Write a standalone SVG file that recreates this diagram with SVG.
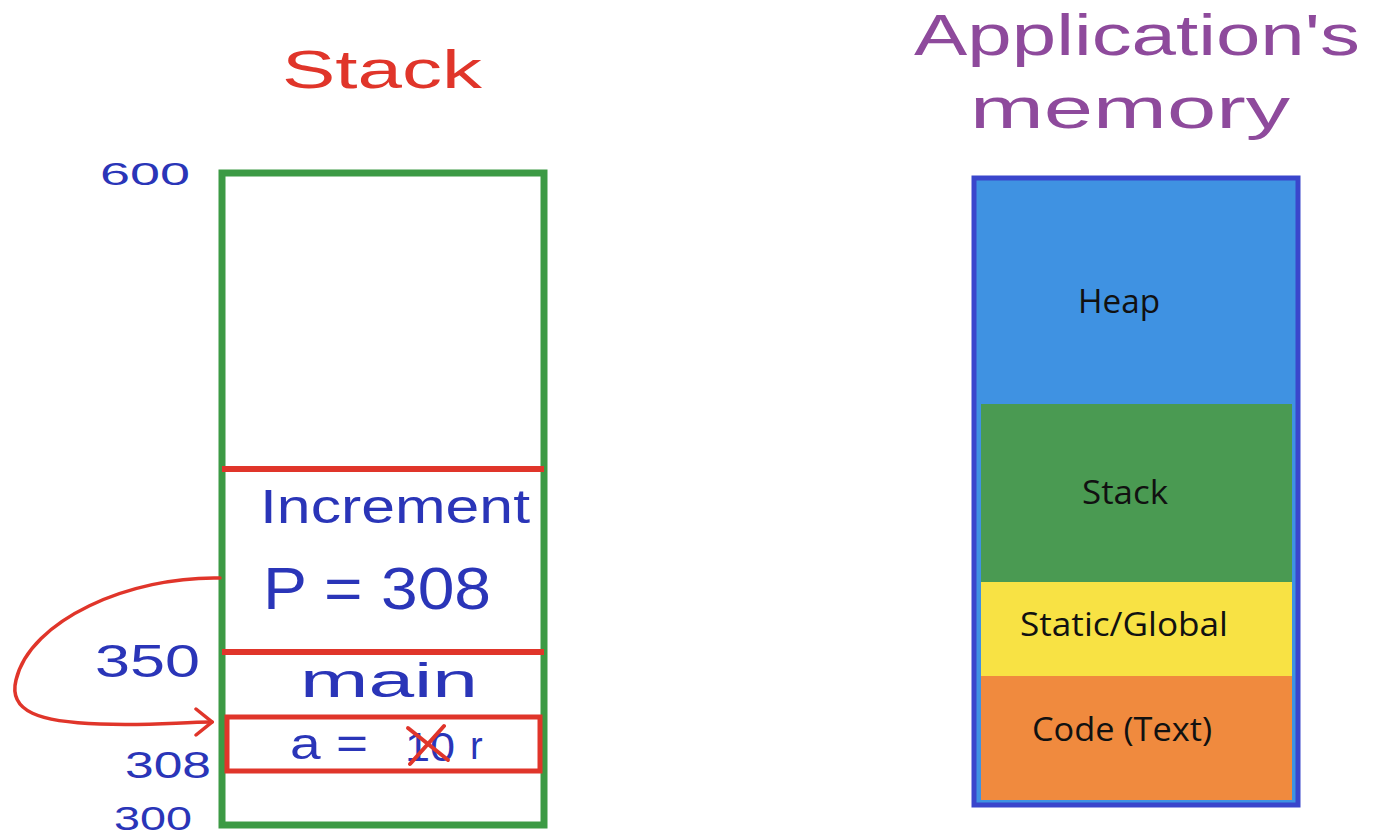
<svg xmlns="http://www.w3.org/2000/svg" width="1392" height="835" viewBox="0 0 1392 835">
<style>
.hand{font-family:"Liberation Sans",Arial,sans-serif;}
.blue{fill:#2a35b8;}
.red{fill:#e0352a;}
.purple{fill:#8e4a9c;}
.lbl{font-family:"Open Sans","Noto Sans",sans-serif;font-size:32px;fill:#111;text-anchor:middle;}
.redline{stroke:#e0352a;stroke-width:6;fill:none;}
</style>
<defs>
<marker id="arr" viewBox="0 0 20 30" refX="18" refY="15" markerWidth="20" markerHeight="30" markerUnits="userSpaceOnUse" orient="auto">
<path d="M2 2 L18 15 L2 28" fill="none" stroke="#e0352a" stroke-width="3.5" stroke-linecap="round"/>
</marker>
</defs>
<rect width="1392" height="835" fill="#ffffff"/>

<g id="stack-title"><text class="hand red" x="282" y="88" font-size="54" textLength="200" lengthAdjust="spacingAndGlyphs">Stack</text></g>

<g id="stack">
<rect x="222" y="173" width="322" height="652" fill="none" stroke="#3c9a44" stroke-width="7"/>
<line x1="222" y1="469" x2="544" y2="469" class="redline"/>
<line x1="222" y1="652" x2="544" y2="652" class="redline"/>
</g>

<g id="increment-frame">
<text class="hand blue" x="260" y="523" font-size="48" textLength="270" lengthAdjust="spacingAndGlyphs">Increment</text>
<text class="hand blue" x="263" y="609" font-size="60" textLength="228" lengthAdjust="spacingAndGlyphs">P = 308</text>
</g>

<g id="main-frame">
<text class="hand blue" x="300" y="697" font-size="48" textLength="178" lengthAdjust="spacingAndGlyphs">main</text>
</g>

<g id="var-a">
<rect x="227" y="717" width="313" height="54" fill="none" stroke="#e0352a" stroke-width="5"/>
<text class="hand blue" x="290" y="759" font-size="44" textLength="78" lengthAdjust="spacingAndGlyphs">a =</text>
<text class="hand blue" x="405" y="761" font-size="40" textLength="50" lengthAdjust="spacingAndGlyphs">10</text>
<line x1="408" y1="728" x2="448" y2="760" stroke="#e0352a" stroke-width="4" stroke-linecap="round"/>
<line x1="444" y1="726" x2="410" y2="764" stroke="#e0352a" stroke-width="4" stroke-linecap="round"/>
<text class="hand blue" x="470" y="759" font-size="38">r</text>
</g>

<g id="addresses">
<text class="hand blue" x="100" y="185" font-size="32" textLength="90" lengthAdjust="spacingAndGlyphs">600</text>
<text class="hand blue" x="95" y="677" font-size="46" textLength="105" lengthAdjust="spacingAndGlyphs">350</text>
<text class="hand blue" x="125" y="778" font-size="36" textLength="86" lengthAdjust="spacingAndGlyphs">308</text>
<text class="hand blue" x="114" y="830" font-size="34" textLength="78" lengthAdjust="spacingAndGlyphs">300</text>
</g>

<g id="connectors">
<path d="M220 578 C130 576 30 620 16 680 C8 712 40 722 100 724 C150 726 180 722 212 722" fill="none" stroke="#e0352a" stroke-width="3.5" stroke-linecap="round" marker-end="url(#arr)"/>
</g>

<g id="mem-title">
<text class="hand purple" x="914" y="55" font-size="58" textLength="446" lengthAdjust="spacingAndGlyphs">Application's</text>
<text class="hand purple" x="970" y="128" font-size="58" textLength="320" lengthAdjust="spacingAndGlyphs">memory</text>
</g>

<g id="memory">
<rect x="974" y="178" width="324" height="627" fill="#3f92e2" stroke="#3a46cc" stroke-width="5"/>
<g id="heap"><rect x="981" y="184" width="311" height="220" fill="#3f92e2"/><text class="lbl" x="1119" y="313" textLength="82" lengthAdjust="spacingAndGlyphs">Heap</text></g>
<g id="seg-stack"><rect x="981" y="404" width="311" height="178" fill="#4a9a52"/><text class="lbl" x="1125" y="504" textLength="86" lengthAdjust="spacingAndGlyphs">Stack</text></g>
<g id="static"><rect x="981" y="582" width="311" height="94" fill="#f8e244"/><text class="lbl" x="1124" y="636" textLength="208" lengthAdjust="spacingAndGlyphs">Static/Global</text></g>
<g id="code"><rect x="981" y="676" width="311" height="124" fill="#f08a3e"/><text class="lbl" x="1122" y="741" textLength="180" lengthAdjust="spacingAndGlyphs">Code (Text)</text></g>
</g>
</svg>
